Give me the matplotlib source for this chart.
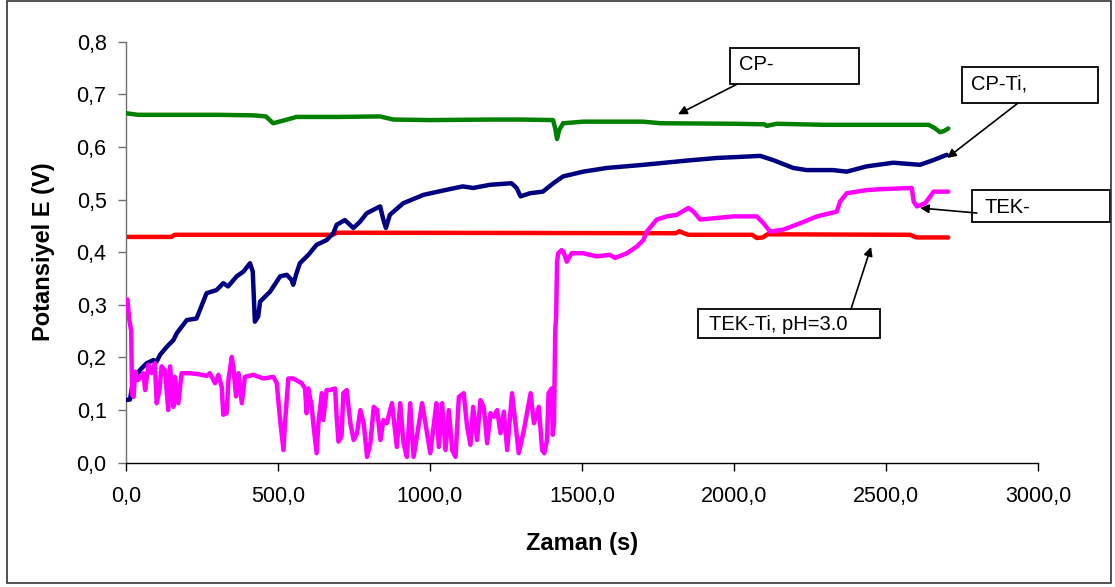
import matplotlib
matplotlib.use("Agg")
import matplotlib.pyplot as plt
from matplotlib.patches import Rectangle
from matplotlib.ticker import FuncFormatter, MultipleLocator

plt.rcParams['font.family'] = ['Liberation Sans', 'DejaVu Sans']

# CP- (green)
cp_x = [0, 40, 100, 300, 420, 460, 484, 517, 561, 700, 835, 880, 1000, 1200, 1300, 1405, 1412,
        1418, 1425, 1438, 1504, 1700, 1760, 2000, 2100, 2108, 2140, 2300, 2640, 2660, 2678, 2690, 2705]
cp_y = [0.664, 0.661, 0.661, 0.661, 0.660, 0.658, 0.645, 0.650, 0.657, 0.657, 0.658, 0.652, 0.651,
        0.652, 0.652, 0.651, 0.635, 0.615, 0.632, 0.645, 0.648, 0.648, 0.645, 0.644, 0.643, 0.640,
        0.644, 0.642, 0.642, 0.636, 0.628, 0.630, 0.635]

# CP-Ti (navy)
cpti_x = [0, 13, 24, 46, 68, 90, 101, 112, 134, 156,
          167, 200, 232, 243, 265, 298, 320, 336, 364, 386,
          408, 417, 424, 435, 441, 474, 507, 529, 545, 550,
          561, 572, 600, 627, 660, 682, 693, 720, 748, 770,
          792, 836, 847, 855, 868, 912, 979, 1042, 1108, 1142,
          1197, 1268, 1285, 1298, 1329, 1371, 1406, 1438, 1504, 1581,
          1702, 1844, 1943, 2053, 2086, 2129, 2195, 2239, 2326, 2371,
          2436, 2524, 2612, 2656, 2700]
cpti_y = [0.119, 0.120, 0.157, 0.176, 0.189, 0.195, 0.192, 0.205, 0.220, 0.233,
          0.246, 0.271, 0.274, 0.290, 0.322, 0.328, 0.341, 0.335, 0.354, 0.363,
          0.379, 0.363, 0.268, 0.278, 0.306, 0.325, 0.354, 0.357, 0.347, 0.338,
          0.360, 0.379, 0.395, 0.414, 0.423, 0.436, 0.452, 0.461, 0.446, 0.458,
          0.474, 0.487, 0.461, 0.446, 0.471, 0.493, 0.509, 0.517, 0.525, 0.522,
          0.528, 0.531, 0.522, 0.506, 0.512, 0.515, 0.531, 0.544, 0.553, 0.560,
          0.566, 0.574, 0.579, 0.582, 0.583, 0.575, 0.560, 0.556, 0.556, 0.553,
          0.563, 0.570, 0.566, 0.575, 0.585]

# TEK- (magenta)
tek_x = [0, 5, 10, 17, 20, 25, 30, 40, 57, 63,
         74, 85, 95, 101, 110, 117, 128, 139, 145, 156,
         161, 172, 183, 194, 210, 240, 265, 276, 293, 304,
         315, 320, 331, 337, 348, 353, 362, 370, 381, 391,
         419, 452, 485, 496, 507, 518, 523, 534, 550, 578,
         589, 594, 600, 611, 616, 627, 633, 644, 649, 660,
         671, 688, 693, 699, 709, 715, 726, 738, 749, 760,
         771, 782, 793, 804, 815, 826, 837, 847, 858, 875,
         891, 902, 913, 924, 935, 946, 957, 974, 985, 1001,
         1012, 1021, 1029, 1040, 1051, 1062, 1073, 1084, 1095, 1111,
         1122, 1133, 1142, 1155, 1166, 1177, 1188, 1199, 1210, 1221,
         1232, 1243, 1254, 1270, 1281, 1292, 1309, 1331, 1342, 1358,
         1369, 1376, 1385, 1390, 1400, 1404, 1408, 1412, 1415, 1418,
         1422, 1433, 1439, 1450, 1466, 1493, 1504, 1548, 1592, 1609,
         1648, 1681, 1702, 1713, 1746, 1779, 1812, 1850, 1867, 1889,
         1944, 1999, 2075, 2097, 2119, 2163, 2218, 2273, 2338, 2349,
         2371, 2437, 2492, 2585, 2591, 2602, 2629, 2657, 2705]
tek_y = [0.310, 0.310, 0.275, 0.250, 0.130, 0.125, 0.173, 0.157, 0.170, 0.138,
         0.186, 0.170, 0.189, 0.113, 0.138, 0.183, 0.176, 0.100, 0.183, 0.106,
         0.163, 0.113, 0.170, 0.170, 0.170, 0.168, 0.165, 0.170, 0.151, 0.167,
         0.144, 0.091, 0.094, 0.157, 0.201, 0.182, 0.126, 0.170, 0.113, 0.163,
         0.167, 0.160, 0.163, 0.151, 0.081, 0.024, 0.075, 0.160, 0.160, 0.151,
         0.141, 0.094, 0.141, 0.106, 0.075, 0.018, 0.075, 0.132, 0.081, 0.138,
         0.138, 0.141, 0.087, 0.040, 0.050, 0.132, 0.138, 0.075, 0.043, 0.056,
         0.100, 0.075, 0.011, 0.037, 0.106, 0.100, 0.043, 0.081, 0.075, 0.113,
         0.030, 0.113, 0.037, 0.011, 0.113, 0.011, 0.050, 0.113, 0.075, 0.018,
         0.069, 0.113, 0.030, 0.113, 0.024, 0.100, 0.024, 0.011, 0.125, 0.132,
         0.069, 0.034, 0.106, 0.043, 0.119, 0.106, 0.037, 0.094, 0.087, 0.100,
         0.056, 0.097, 0.024, 0.132, 0.075, 0.018, 0.062, 0.132, 0.075, 0.106,
         0.024, 0.018, 0.043, 0.132, 0.141, 0.053, 0.075, 0.250, 0.278, 0.382,
         0.398, 0.404, 0.401, 0.382, 0.398, 0.398, 0.398, 0.392, 0.395, 0.389,
         0.398, 0.411, 0.423, 0.439, 0.462, 0.468, 0.471, 0.484, 0.477, 0.462,
         0.465, 0.468, 0.468, 0.455, 0.439, 0.443, 0.455, 0.468, 0.477, 0.496,
         0.512, 0.518, 0.520, 0.522, 0.496, 0.487, 0.493, 0.515, 0.515]

# TEK-Ti, pH=3.0 (red)
tekti_x = [0, 150, 160, 680, 695, 1810, 1820, 1835, 1850, 2060, 2075, 2095, 2110, 2580, 2600, 2705]
tekti_y = [0.429, 0.429, 0.433, 0.433, 0.437, 0.436, 0.440, 0.436, 0.433, 0.433, 0.427, 0.428,
           0.434, 0.433, 0.428, 0.428]

x_ticks = [0, 500, 1000, 1500, 2000, 2500, 3000]
y_ticks = [0.0, 0.1, 0.2, 0.3, 0.4, 0.5, 0.6, 0.7, 0.8]

fig = plt.figure(figsize=(11.15, 5.87), dpi=100)
ax = fig.add_axes([0.1130, 0.2118, 0.8179, 0.7172])

line_kw = dict(lw=3.2, solid_joinstyle='round', solid_capstyle='round')
ax.plot(tekti_x, tekti_y, color='#FF0000', zorder=2, **line_kw)
ax.plot(cpti_x, cpti_y, color='#000080', zorder=3, **line_kw)
ax.plot(cp_x, cp_y, color='#008000', zorder=3, **line_kw)
ax.plot(tek_x, tek_y, color='#FF00FF', zorder=4, **line_kw)

ax.set_xlim(0, 3000)
ax.set_ylim(0, 0.8)
ax.set_xticks(x_ticks)
ax.set_yticks(y_ticks)
ax.xaxis.set_major_formatter(FuncFormatter(lambda v, p: f"{v:.1f}".replace('.', ',')))
ax.yaxis.set_major_formatter(FuncFormatter(lambda v, p: f"{v:.1f}".replace('.', ',')))

for s in ['top', 'right']:
    ax.spines[s].set_visible(False)
ax.spines['left'].set_color('#707070')
ax.spines['bottom'].set_color('black')
ax.spines['left'].set_linewidth(1.0)
ax.spines['bottom'].set_linewidth(1.0)

ax.tick_params(axis='x', direction='out', length=6, width=1.0, pad=11, labelsize=15.5, color='black')
ax.tick_params(axis='y', direction='out', length=6, width=1.0, pad=8, labelsize=15.5, color='#707070')

ax.set_xlabel('Zaman (s)', fontsize=17, fontweight='bold')
ax.set_ylabel('Potansiyel E (V)', fontsize=17, fontweight='bold')
ax.xaxis.set_label_coords(0.5, -0.165)
ax.yaxis.set_label_coords(-0.078, 0.5)

# Callout boxes: (left, bottom, width, height) in axes fraction, text anchor, arrow start, arrow tip (data)
callouts = [
    ("CP-", (0.662, 0.899, 0.142, 0.086), (0.672, 0.945), (0.670, 0.899), (1816, 0.662)),
    ("CP-Ti,", (0.917, 0.854, 0.149, 0.086), (0.9265, 0.900), (0.978, 0.854), (2701, 0.579)),
    ("TEK-", (0.928, 0.571, 0.151, 0.076), (0.941, 0.607), (0.933, 0.593), (2612, 0.484)),
    ("TEK-Ti, pH=3.0", (0.627, 0.296, 0.200, 0.069), (0.639, 0.328), (0.795, 0.365), (2451, 0.410)),
]
for text, (bx, by, bw, bh), (tx, ty), start, tip in callouts:
    ax.add_patch(Rectangle((bx, by), bw, bh, transform=ax.transAxes, fill=True,
                           facecolor='white', edgecolor='black', lw=1.3, clip_on=False, zorder=5))
    ax.text(tx, ty, text, transform=ax.transAxes, fontsize=14.5, ha='left', va='center',
            zorder=6, clip_on=False)
    ax.annotate('', xy=tip, xycoords='data', xytext=start, textcoords='axes fraction',
                arrowprops=dict(arrowstyle='-|>', color='black', lw=1.2, mutation_scale=13,
                                shrinkA=0, shrinkB=0),
                annotation_clip=False, zorder=6)

# Outer chart frame
fig.add_artist(Rectangle((7 / 1115, 1 - 583 / 587), (1111 - 7) / 1115, (583 - 1) / 587,
                         transform=fig.transFigure, fill=False, edgecolor='#333333', lw=1.2))

fig.savefig('out.png', dpi=100)
